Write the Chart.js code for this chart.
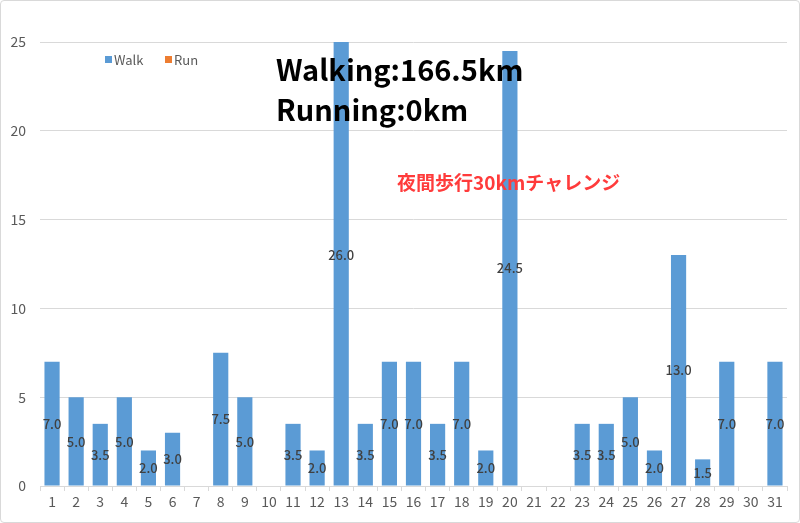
<!DOCTYPE html>
<html>
<head>
<meta charset="utf-8">
<script src="https://cdn.jsdelivr.net/npm/chart.js@4/dist/chart.umd.min.js"></script>
<style>
  html, body { margin: 0; padding: 0; background: #fff; }
  #wrap { position: relative; width: 800px; height: 523px; box-sizing: border-box; border: 1px solid #d9d9d9; border-radius: 4px; }
  canvas { display: block; }
</style>
</head>
<body>
<div id="wrap"><canvas id="walkChart" width="798" height="521"></canvas></div>
<script>
// monthly walk / run distances (km)
const days = ["1","2","3","4","5","6","7","8","9","10","11","12","13","14","15","16",
  "17","18","19","20","21","22","23","24","25","26","27","28","29","30","31"];
const walkKm = [7, 5, 3.5, 5, 2, 3, null, 7.5, 5, null, 3.5, 2, 26, 3.5, 7, 7,
  3.5, 7, 2, 24.5, null, null, 3.5, 3.5, 5, 2, 13, 1.5, 7, null, 7];
const runKm = [0, 0, 0, 0, 0, 0, 0, 0, 0, 0, 0, 0, 0, 0, 0, 0,
  0, 0, 0, 0, 0, 0, 0, 0, 0, 0, 0, 0, 0, 0, 0];
const yTicks = [0, 5, 10, 15, 20, 25];

const walkTotal = "Walking:166.5km";
const runTotal = "Running:0km";
const note = "夜間歩行30kmチャレンジ";

const FONT = "'Noto Sans CJK JP', 'Noto Sans', sans-serif";

// value labels at the middle of each walk bar
const barLabels = {
  id: "barLabels",
  afterDatasetsDraw(chart) {
    const { ctx } = chart;
    const meta = chart.getDatasetMeta(0);
    const y = chart.scales.y;
    ctx.save();
    ctx.font = "500 13px " + FONT;
    ctx.fillStyle = "#404040";
    ctx.textAlign = "center";
    ctx.textBaseline = "middle";
    walkKm.forEach((v, i) => {
      if (v == null) return;
      ctx.fillText(v.toFixed(1), meta.data[i].x, y.getPixelForValue(v / 2));
    });
    ctx.restore();
  }
};

// legend + text notes inside the plot
const notes = {
  id: "notes",
  afterDraw(chart) {
    const { ctx, chartArea } = chart;
    const l = chartArea.left, t = chartArea.top;
    ctx.save();
    ctx.textBaseline = "middle";
    ctx.font = "13px " + FONT;
    let lx = l + 65;
    chart.data.datasets.forEach((ds) => {
      ctx.fillStyle = ds.backgroundColor;
      ctx.fillRect(lx, t + 14, 7, 7);
      ctx.fillStyle = "#595959";
      ctx.textAlign = "left";
      ctx.fillText(ds.label, lx + 9, t + 18);
      lx += 60;
    });

    ctx.textBaseline = "alphabetic";
    ctx.fillStyle = "#000";
    ctx.font = "bold 29px " + FONT;
    ctx.fillText(walkTotal, l + 236, t + 39);
    ctx.fillText(runTotal, l + 236, t + 79);

    ctx.fillStyle = "#ff3b3b";
    ctx.font = "bold 19px " + FONT;
    ctx.fillText(note, l + 357, t + 148);
    ctx.restore();
  }
};

new Chart(document.getElementById("walkChart"), {
  type: "bar",
  data: {
    labels: days,
    datasets: [
      { label: "Walk", data: walkKm, backgroundColor: "#5b9bd5" },
      { label: "Run", data: runKm, backgroundColor: "#ed7d31" }
    ]
  },
  options: {
    responsive: false,
    animation: false,
    layout: { padding: { top: 41, right: 12, left: 0, bottom: 0 } },
    datasets: { bar: { barPercentage: 0.63, categoryPercentage: 1 } },
    plugins: {
      legend: { display: false },
      tooltip: { enabled: false }
    },
    scales: {
      x: {
        stacked: true,
        grid: { display: true, drawOnChartArea: false, offset: true, color: "#d9d9d9", tickLength: 5 },
        border: { color: "#d9d9d9" },
        ticks: { color: "#595959", font: { size: 14, family: FONT }, padding: 2, maxRotation: 0, autoSkip: false },
        afterFit(scale) { scale.height = 36; }
      },
      y: {
        stacked: true,
        min: 0,
        max: 25,
        afterBuildTicks(scale) { scale.ticks = yTicks.map((v) => ({ value: v })); },
        grid: { color: "#d9d9d9", drawTicks: false },
        border: { display: false },
        ticks: { color: "#595959", font: { size: 14, family: FONT }, padding: 14 },
        afterFit(scale) { scale.width = 39; }
      }
    }
  },
  plugins: [barLabels, notes]
});
</script>
</body>
</html>
